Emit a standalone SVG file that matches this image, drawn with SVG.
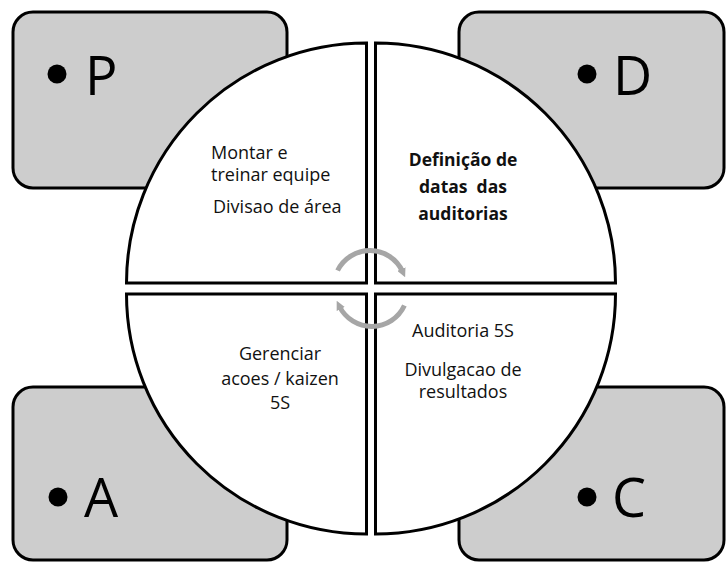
<svg xmlns="http://www.w3.org/2000/svg" width="726" height="562" viewBox="0 0 726 562">
<style>
.box{fill:#cdcdcd;stroke:#000;stroke-width:3}
.q{fill:#fff;stroke:#000;stroke-width:3}
.big{font-family:"Open Sans","Liberation Sans",sans-serif;font-size:54px;fill:#000}
.t{font-family:"Open Sans","Liberation Sans",sans-serif;font-size:18px;fill:#111}
.tb{font-family:"Open Sans","Liberation Sans",sans-serif;font-size:17.5px;font-weight:bold;fill:#111}
.arc{fill:none;stroke:#a6a6a6;stroke-width:5}
</style>
<defs>
<marker id="ah" viewBox="0 0 10 10" refX="3" refY="5" markerWidth="1.8" markerHeight="1.8" orient="auto" markerUnits="strokeWidth">
<path d="M0,0 L10,5 L0,10 z" fill="#a6a6a6"/>
</marker>
</defs>
<rect width="726" height="562" fill="#fff"/>
<g id="P">
<rect class="box" x="13" y="12" width="274" height="176" rx="20"/>
<circle cx="57" cy="74" r="9.5"/>
<text class="big" x="85" y="95">P</text>
</g>
<g id="D">
<rect class="box" x="459" y="12" width="265" height="176" rx="20"/>
<circle cx="587" cy="74" r="9.5"/>
<text class="big" x="613" y="95">D</text>
</g>
<g id="A">
<rect class="box" x="13" y="387" width="274" height="173" rx="20"/>
<circle cx="58" cy="497" r="9.5"/>
<text class="big" x="84" y="517">A</text>
</g>
<g id="C">
<rect class="box" x="459" y="387" width="265" height="173" rx="20"/>
<circle cx="587" cy="497" r="9.5"/>
<text class="big" x="612" y="517">C</text>
</g>
<g id="Q-TL">
<path class="q" d="M366.5 283 L126.5 283 A240 240 0 0 1 366.5 43 Z"/>
<text class="t" x="211" y="159">Montar e</text>
<text class="t" x="211" y="181">treinar equipe</text>
<text class="t" x="213" y="213">Divisao de área</text>
</g>
<g id="Q-TR">
<path class="q" d="M375.5 283 L375.5 43 A240 240 0 0 1 615.5 283 Z"/>
<text class="tb" text-anchor="middle" x="463" y="166">Definição de</text>
<text class="tb" text-anchor="middle" x="463" y="193" xml:space="preserve">datas  das</text>
<text class="tb" text-anchor="middle" x="463" y="220">auditorias</text>
</g>
<g id="Q-BL">
<path class="q" d="M366.5 294 L366.5 534 A240 240 0 0 1 126.5 294 Z"/>
<text class="t" text-anchor="middle" x="280" y="360">Gerenciar</text>
<text class="t" text-anchor="middle" x="280" y="385">acoes / kaizen</text>
<text class="t" text-anchor="middle" x="280" y="409">5S</text>
</g>
<g id="Q-BR">
<path class="q" d="M375.5 294 L615.5 294 A240 240 0 0 1 375.5 534 Z"/>
<text class="t" text-anchor="middle" x="463" y="337">Auditoria 5S</text>
<text class="t" text-anchor="middle" x="463" y="376">Divulgacao de</text>
<text class="t" text-anchor="middle" x="463" y="398">resultados</text>
</g>
<g id="connectors">
<path class="arc" marker-end="url(#ah)" d="M337.6 270.5 A36 36 0 0 1 402.5 271.5"/>
<path class="arc" marker-end="url(#ah)" d="M404.4 305.5 A36 36 0 0 1 339.5 306.5"/>
</g>
</svg>
